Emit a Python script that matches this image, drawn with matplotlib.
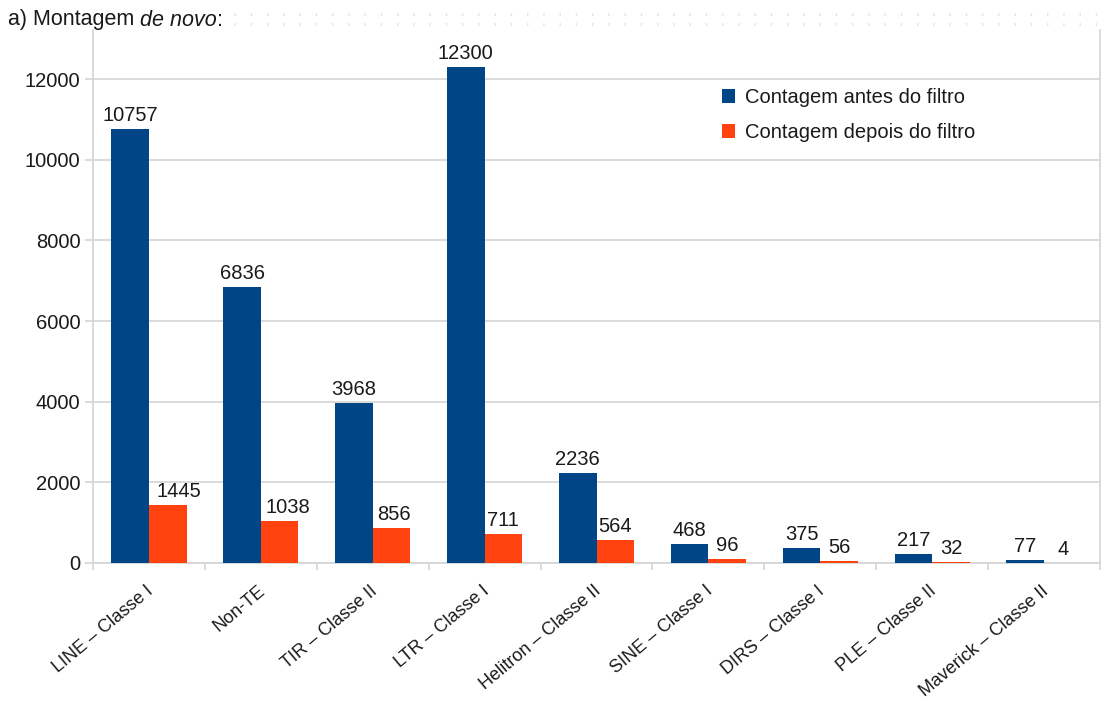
import numpy as np
import matplotlib
matplotlib.use("Agg")
import matplotlib.pyplot as plt
from matplotlib.lines import Line2D
from matplotlib.transforms import ScaledTranslation

plt.rcParams['font.family'] = ['Liberation Sans', 'DejaVu Sans']

categories = ["LINE – Classe I", "Non-TE", "TIR – Classe II", "LTR – Classe I",
              "Helitron – Classe II", "SINE – Classe I", "DIRS – Classe I",
              "PLE – Classe II", "Maverick – Classe II"]
antes = [10757, 6836, 3968, 12300, 2236, 468, 375, 217, 77]
depois = [1445, 1038, 856, 711, 564, 96, 56, 32, 4]
series_names = ["Contagem antes do filtro", "Contagem depois do filtro"]
yticks = [0, 2000, 4000, 6000, 8000, 10000, 12000]

BLUE = "#004586"
ORANGE = "#ff420e"
GRID = "#d4d4d4"
TEXT = "#1a1a1a"
FS = 14.5

fig = plt.figure(figsize=(11.05, 7.02), dpi=100)
ax = fig.add_axes([93 / 1105, 1 - 563 / 702, (1100 - 93) / 1105, (563 - 30) / 702])

x = np.arange(len(categories))
w = 0.336
b1 = ax.bar(x - w / 2, antes, w, color=BLUE, label=series_names[0], zorder=3)
b2 = ax.bar(x + w / 2, depois, w, color=ORANGE, label=series_names[1], zorder=3)

# wide labels on the second series are nudged right, clear of the taller neighbour
nudge_second = {0: 8, 1: 6, 2: 2}
for k, (bars, vals) in enumerate(((b1, antes), (b2, depois))):
    for i, (r, v) in enumerate(zip(bars, vals)):
        dx = nudge_second.get(i, 0) if k == 1 else 0
        ax.annotate(str(v), (r.get_x() + r.get_width() / 2, v),
                    xytext=(dx, 3), textcoords="offset points",
                    ha="center", va="bottom", fontsize=FS, color=TEXT)

ax.set_xlim(-0.5, len(categories) - 0.5)
ax.set_ylim(0, 13215)
ax.set_yticks(yticks)
ax.set_yticklabels([str(t) for t in yticks], fontsize=FS, color=TEXT)
ax.yaxis.grid(True, color=GRID, lw=1.2, zorder=0)
ax.tick_params(axis="y", length=5.5, width=1.2, color=GRID, pad=3.6)

ax.set_xticks(x)
ax.set_xticklabels(categories, rotation=40, ha="right", va="top",
                   rotation_mode="anchor", fontsize=13, color=TEXT)
ax.tick_params(axis="x", which="major", length=0, pad=14)
shift = ScaledTranslation(-3.2 / 100, 0, fig.dpi_scale_trans)
for lbl in ax.get_xticklabels():
    lbl.set_transform(lbl.get_transform() + shift)
ax.set_xticks(np.arange(-0.5, len(categories)), minor=True)
ax.tick_params(axis="x", which="minor", length=5, width=1.2, color=GRID)

for s in ("left", "right", "bottom"):
    ax.spines[s].set_color(GRID)
    ax.spines[s].set_linewidth(1.2)
ax.spines["top"].set_visible(False)

ax.legend(loc="upper left", bbox_to_anchor=(0.607, 0.925), frameon=False,
          fontsize=FS, handlelength=0.65, handleheight=0.65, labelspacing=0.8,
          handletextpad=0.45, labelcolor=TEXT)

# heading: upright text, italic phrase, colon
renderer = fig.canvas.get_renderer()
HY = 1 - 20 / 702
t = fig.text(8 / 1105, HY, "a) Montagem ", fontsize=15.5, color=TEXT,
             va="center", ha="left")
ext = t.get_window_extent(renderer)
t2 = fig.text(ext.x1 / fig.bbox.width, HY, "de novo", fontsize=15.5,
              style="italic", color=TEXT, va="center", ha="left")
ext2 = t2.get_window_extent(renderer)
fig.text(ext2.x1 / fig.bbox.width, HY, ":", fontsize=15.5,
         color=TEXT, va="center", ha="left")

for yy in (14, 24):
    fig.add_artist(Line2D([234 / 1105, 1], [1 - yy / 702] * 2, transform=fig.transFigure,
                          color="#e4e4e4", lw=2.0, linestyle=(0, (0.5, 5.35))))

fig.savefig("out.png", dpi=100)
